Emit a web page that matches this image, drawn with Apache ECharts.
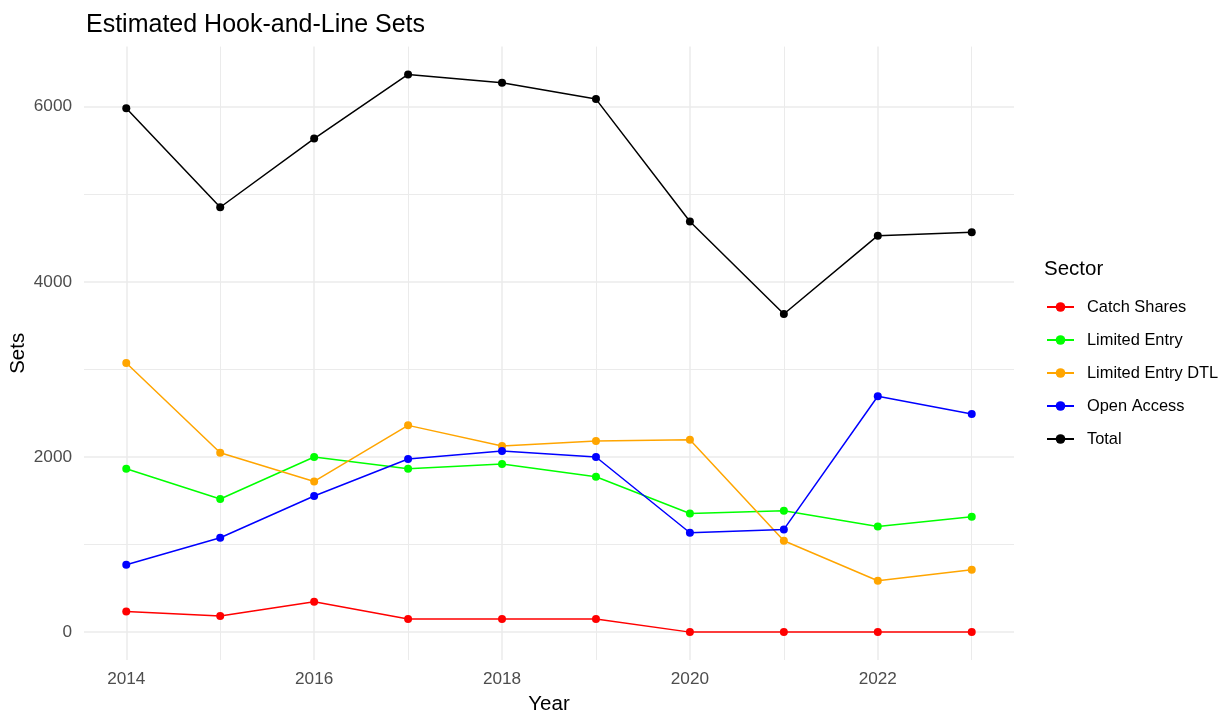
<!DOCTYPE html>
<html>
<head>
<meta charset="utf-8">
<title>Estimated Hook-and-Line Sets</title>
<script src="https://cdn.jsdelivr.net/npm/echarts@6/dist/echarts.min.js"></script>
<style>
  html, body { margin: 0; padding: 0; background: #fff; }
  #chart { width: 1230px; height: 715px; }
</style>
</head>
<body>
<div id="chart"></div>
<script>
const years = [2014, 2015, 2016, 2017, 2018, 2019, 2020, 2021, 2022, 2023];
const catchShares = [236, 183, 346, 149, 149, 149, 0, 0, 0, 0];
const limitedEntry = [1866, 1520, 2000, 1866, 1920, 1775, 1355, 1386, 1207, 1318];
const limitedEntryDTL = [3073, 2049, 1721, 2361, 2126, 2183, 2198, 1043, 586, 712];
const openAccess = [770, 1077, 1554, 1977, 2069, 2000, 1135, 1173, 2693, 2491];
const total = [5982, 4852, 5636, 6368, 6273, 6087, 4690, 3633, 4527, 4565];

const xTickLabels = [2014, 2016, 2018, 2020, 2022];
const yTickLabels = [0, 2000, 4000, 6000];
const yMinorTicks = [1000, 3000, 5000];

const FONT = "'Liberation Sans', Arial, sans-serif";

// ggplot-style expansion: 5% of the data range on each side
const yMax = Math.max(...total);
const yPad = yMax * 0.05;
const xPad = (years[years.length - 1] - years[0]) * 0.05;

const sectors = [
    { name: 'Catch Shares', data: catchShares, color: '#ff0000' },
    { name: 'Limited Entry', data: limitedEntry, color: '#00ff00' },
    { name: 'Limited Entry DTL', data: limitedEntryDTL, color: '#ffa500' },
    { name: 'Open Access', data: openAccess, color: '#0000ff' },
    { name: 'Total', data: total, color: '#000000' }
];

const gridLine = (axis, v, width) => ({
    [axis]: v,
    lineStyle: { color: '#ebebeb', width: width, type: 'solid' }
});

const gridLines = [
    ...years.map(y => gridLine('xAxis', y, y % 2 === 0 ? 1.5 : 1)),
    ...yTickLabels.map(v => gridLine('yAxis', v, 1.5)),
    ...yMinorTicks.map(v => gridLine('yAxis', v, 1))
];

const chart = echarts.init(document.getElementById('chart'), null, { renderer: 'canvas' });

chart.setOption({
    backgroundColor: '#ffffff',
    animation: false,
    textStyle: { fontFamily: FONT },
    title: [
        {
            text: 'Estimated Hook-and-Line Sets',
            left: 81, top: 8,
            textStyle: { fontFamily: FONT, fontSize: 25, fontWeight: 'normal', color: '#000' }
        },
        {
            text: 'Sector',
            left: 1039, top: 254,
            textStyle: { fontFamily: FONT, fontSize: 20.5, fontWeight: 'normal', color: '#000' }
        }
    ],
    legend: {
        data: sectors.map(s => s.name),
        orient: 'vertical',
        left: 1046, top: 298,
        padding: 0,
        itemWidth: 27, itemHeight: 12, itemGap: 15,
        textStyle: { fontFamily: FONT, fontSize: 16.4, color: '#000', lineHeight: 18, padding: [0, 0, 0, 8] }
    },
    // fixed panel, labels may sit outside it
    grid: { left: 84, right: 216, top: 46.6, bottom: 55, outerBoundsMode: 'none', containLabel: false },
    xAxis: {
        type: 'value',
        min: years[0] - xPad,
        max: years[years.length - 1] + xPad,
        name: 'Year',
        nameLocation: 'middle',
        nameGap: 34,
        nameMoveOverlap: false,
        nameTextStyle: { fontFamily: FONT, fontSize: 20.5, color: '#000' },
        axisLine: { show: false },
        axisTick: { show: false },
        splitLine: { show: false },
        axisLabel: {
            customValues: xTickLabels,
            formatter: v => String(v),
            margin: 11,
            fontFamily: FONT, fontSize: 17.2, color: '#4d4d4d'
        }
    },
    yAxis: {
        type: 'value',
        min: -yPad,
        max: yMax + yPad,
        name: 'Sets',
        nameLocation: 'middle',
        nameGap: 55,
        nameMoveOverlap: false,
        nameTextStyle: { fontFamily: FONT, fontSize: 20.5, color: '#000' },
        axisLine: { show: false },
        axisTick: { show: false },
        splitLine: { show: false },
        axisLabel: {
            customValues: yTickLabels,
            formatter: v => String(v),
            margin: 12,
            fontFamily: FONT, fontSize: 17.2, color: '#4d4d4d'
        }
    },
    series: [
        {
            // panel grid lines only, kept beneath the data
            name: '_grid',
            type: 'line',
            data: [],
            z: 1,
            silent: true,
            markLine: {
                z: 1,
                silent: true,
                symbol: ['none', 'none'],
                label: { show: false },
                data: gridLines
            }
        },
        ...sectors.map(s => ({
            name: s.name,
            type: 'line',
            z: 3,
            data: years.map((y, i) => [y, s.data[i]]),
            color: s.color,
            symbol: 'circle',
            symbolSize: 8,
            lineStyle: { width: 1.5, color: s.color },
            itemStyle: { color: s.color }
        }))
    ]
});
</script>
</body>
</html>
